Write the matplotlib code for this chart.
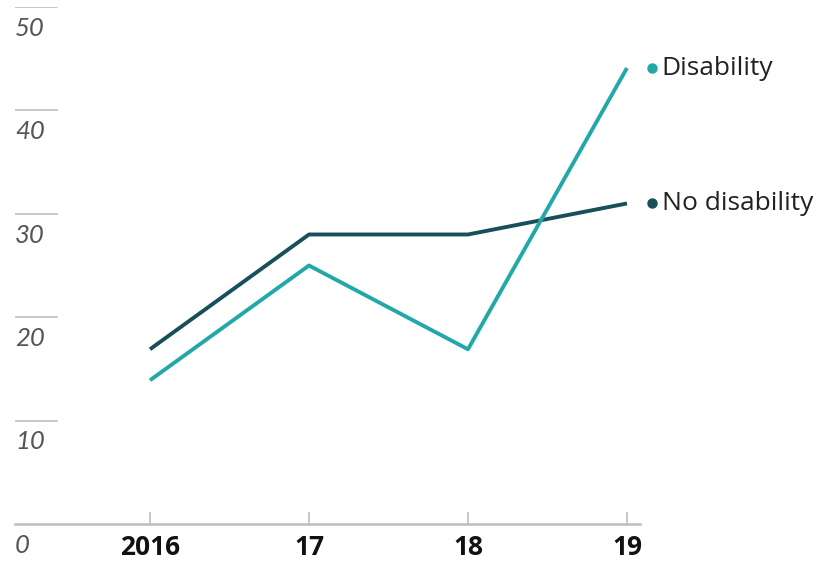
import matplotlib.pyplot as plt

# ---- data ----
years = [2016, 2017, 2018, 2019]
year_labels = ['2016', '17', '18', '19']
disability = [13.9, 25.0, 16.9, 44.1]
no_disability = [16.9, 28.0, 28.0, 31.0]
y_ticks = [0, 10, 20, 30, 40, 50]

plt.rcParams['font.family'] = ['Open Sans', 'DejaVu Sans']

teal = '#22a8a8'
dark = '#174f5b'
grey = '#bdbdbd'

fig = plt.figure(figsize=(8.28, 5.61), dpi=100)
W, H = 828, 561
ax = fig.add_axes([15 / W, 1 - 524 / H, 625 / W, 517 / H])

ax.set_xlim(2015.151, 2019.082)
ax.set_ylim(0, 50)

# short gridlines on the left, full baseline at zero
for v in y_ticks[1:]:
    ax.axhline(v, xmin=0, xmax=42 / 625, color=grey, lw=1.2, zorder=1)
ax.axhline(0, color=grey, lw=1.8, zorder=1, clip_on=False)

for v in y_ticks:
    ax.annotate(str(v), xy=(0, v), xycoords=('axes fraction', 'data'),
                xytext=(0, -7), textcoords='offset points',
                ha='left', va='top', fontsize=18.5, style='italic',
                color='#555555', family=['Lato', 'DejaVu Sans'],
                annotation_clip=False)

ax.plot(years, no_disability, color=dark, lw=2.8, solid_capstyle='butt', zorder=3)
ax.plot(years, disability, color=teal, lw=2.8, solid_capstyle='butt', zorder=4)

# end labels
for vals, name, col in [(disability, 'Disability', teal), (no_disability, 'No disability', dark)]:
    ax.plot([2019.157], [vals[-1]], 'o', color=col, ms=6.5, clip_on=False, zorder=5)
    ax.annotate(name, xy=(years[-1], vals[-1]), xytext=(25, 0),
                textcoords='offset points', ha='left', va='center',
                fontsize=19, color='#222222', annotation_clip=False)

ax.set_xticks(years)
ax.set_xticklabels(year_labels, fontsize=19, fontweight='bold', color='#111111')
ax.tick_params(axis='x', direction='in', length=9, width=1.2, color=grey, pad=7)
ax.set_yticks([])
for s in ax.spines.values():
    s.set_visible(False)

fig.savefig('out.png', dpi=100)
